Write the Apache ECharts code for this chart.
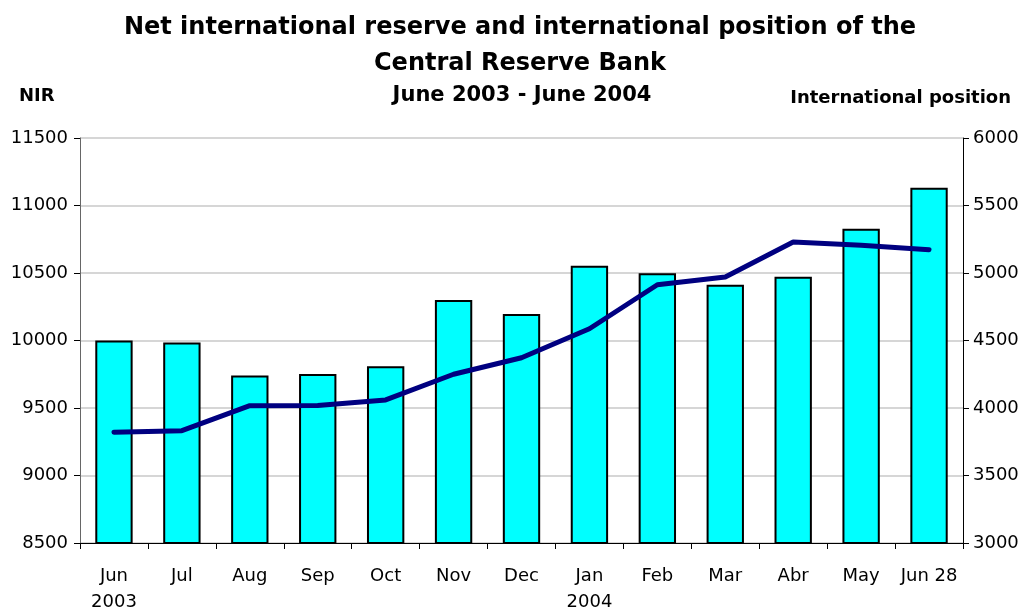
<!DOCTYPE html>
<html><head><meta charset="utf-8">
<script src="https://cdn.jsdelivr.net/npm/echarts@6/dist/echarts.min.js"></script>
<style>html,body{margin:0;padding:0;background:#fff}#c{width:1030px;height:611px}</style>
</head><body><div id="c"></div>
<script>
const categories = ['Jun\n2003','Jul','Aug','Sep','Oct','Nov','Dec','Jan\n2004','Feb','Mar','Abr','May','Jun 28'];
const nirValues = [10000, 9985, 9740, 9752, 9810, 10300, 10196, 10554, 10498, 10413, 10472, 10828, 11131];
const positionValues = [3820, 3832, 4017, 4018, 4060, 4250, 4372, 4587, 4913, 4970, 5230, 5205, 5173];
const titleLines = ['Net international reserve and international position of the', 'Central Reserve Bank'];
const subtitle = 'June 2003 - June 2004';
const leftName = 'NIR';
const rightName = 'International position';

const chart = echarts.init(document.getElementById('c'));
const ff = 'DejaVu Sans, Liberation Sans, sans-serif';
chart.setOption({
  backgroundColor: '#fff',
  animation: false,
  title: [
    { text: titleLines.join('\n'), left: 515, top: 5, textAlign: 'center',
      textStyle: { fontFamily: ff, fontSize: 24, fontWeight: 'bold', color: '#000', lineHeight: 36 } },
    { text: subtitle, left: 517, top: 80, textAlign: 'center',
      textStyle: { fontFamily: ff, fontSize: 21, fontWeight: 'bold', color: '#000' } },
    { text: leftName, left: 14, top: 82,
      textStyle: { fontFamily: ff, fontSize: 18, fontWeight: 'bold', color: '#000' } },
    { text: rightName, right: 14, top: 84,
      textStyle: { fontFamily: ff, fontSize: 18, fontWeight: 'bold', color: '#000' } }
  ],
  grid: { left: 80, right: 67, top: 138, bottom: 68, containLabel: false, outerBoundsMode: 'none' },
  xAxis: {
    type: 'category', data: categories, boundaryGap: true,
    axisLine: { lineStyle: { color: '#000', width: 1 } },
    axisTick: { show: true, length: 6, lineStyle: { color: '#000' } },
    axisLabel: { fontFamily: ff, fontSize: 18, color: '#000', margin: 20, lineHeight: 26, interval: 0, verticalAlign: 'top' }
  },
  yAxis: [
    { type: 'value', min: 8500, max: 11500, interval: 500,
      axisLine: { show: true, lineStyle: { color: '#666' } },
      axisTick: { show: true, length: 6, lineStyle: { color: '#000' } },
      axisLabel: { fontFamily: ff, fontSize: 18, color: '#000', margin: 12, formatter: v => String(v) },
      splitLine: { show: true, lineStyle: { color: '#c8c8c8', width: 1.5 } } },
    { type: 'value', min: 3000, max: 6000, interval: 500, position: 'right',
      axisLine: { show: true, lineStyle: { color: '#000' } },
      axisTick: { show: true, length: 6, lineStyle: { color: '#000' } },
      axisLabel: { fontFamily: ff, fontSize: 18, color: '#000', margin: 10, formatter: v => String(v) },
      splitLine: { show: false } }
  ],
  series: [
    { type: 'bar', data: nirValues, yAxisIndex: 0, barCategoryGap: '45%',
      itemStyle: { color: '#00ffff', borderColor: '#000', borderWidth: 2 } },
    { type: 'line', data: positionValues, yAxisIndex: 1, symbol: 'none',
      lineStyle: { color: '#000080', width: 5, cap: 'round', join: 'round' } }
  ]
});
</script></body></html>
